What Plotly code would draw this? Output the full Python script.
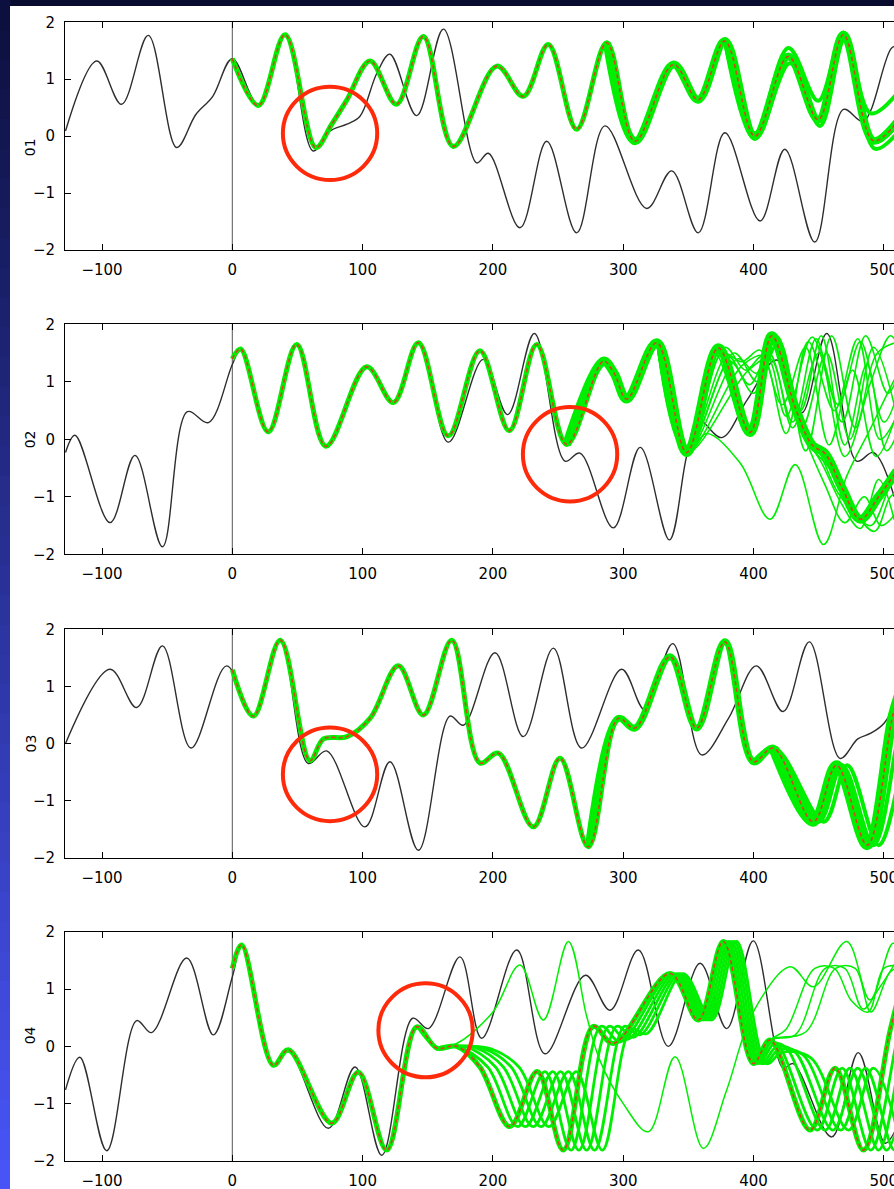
import plotly.graph_objects as go

# ---------------------------------------------------------------------------
# Observed trajectories (black), ensemble mean (red dashed) and ensemble
# members (green) for the four state variables 01..04.  Points are (t, value)
# knots; the curves are drawn as splines through them.
# ---------------------------------------------------------------------------
obs1 = [(-128, 0.09), (-104, 1.32), (-85, 0.56), (-64.5, 1.77), (-42.7, -0.2), (-28, 0.38),
        (-15, 0.70), (0, 1.36), (20, 0.54), (40.5, 1.78), (62, -0.26), (75, 0.09), (88, 0.21),
        (98, 0.35), (111, 1.11), (121, 1.44), (141.5, 0.36), (162, 1.88), (187.6, -0.47),
        (196.5, -0.30), (220.8, -1.61), (241.3, -0.09), (264.3, -1.70), (286, 0.18), (318, -1.27),
        (337.2, -0.61), (357.6, -1.70), (378, 0.06), (405, -1.49), (424, -0.23), (447, -1.86),
        (469, 0.47), (484.3, 0.26), (506, 1.55), (512, 1.58)]
mean1 = [(0, 1.36), (20, 0.54), (40.5, 1.78), (64, -0.2), (76, 0.2), (88, 0.64), (105.7, 1.32),
         (126, 0.56), (146.6, 1.75), (169.6, -0.18), (203, 1.23), (223.3, 0.70), (242.5, 1.61),
         (264.3, 0.12), (287.3, 1.64), (309, -0.09), (338.5, 1.26), (357.6, 0.64), (378, 1.67),
         (401, 0.0), (426.7, 1.40), (449.7, 0.29), (469, 1.78), (492, -0.08), (512, 0.3)]
members1 = [
    [(378, 1.67), (401, 0.05), (426.7, 1.55), (449.7, 0.62), (469, 1.82), (490, 0.40), (512, 0.8)],
    [(378, 1.67), (401, -0.05), (428, 1.28), (451, 0.18), (470, 1.70), (493, -0.22), (512, 0.1)],
]

obs2 = [(-128, -0.23), (-120.7, 0.07), (-93.8, -1.45), (-74.7, -0.28), (-53.6, -1.87), (-34.5, 0.48),
        (-18.4, 0.29), (0, 1.3), (6.4, 1.57), (27.6, 0.13), (49.4, 1.65), (71.9, -0.12), (103.1, 1.26),
        (123.6, 0.64), (142.8, 1.68), (165.8, -0.05), (192.6, 1.39), (211.3, 0.43), (231.8, 1.84),
        (255.3, -0.38), (266.8, -0.24), (292.4, -1.54), (313, -0.14), (335.4, -1.75), (348.7, -0.29),
        (357.6, 0.34), (375.6, 0.03), (395, 0.68), (417.8, 1.38), (437, 0.46), (456.2, 1.84),
        (479.2, -0.38), (492, -0.23), (508, -1.0)]
mean2 = [(0, 1.40), (6.4, 1.57), (27.6, 0.13), (49.4, 1.65), (71.9, -0.12), (103.1, 1.26), (123.6, 0.64),
         (142.8, 1.68), (165.8, 0.06), (190, 1.54), (212.6, 0.15), (233.6, 1.65), (256.6, -0.09),
         (284.8, 1.36), (293, 1.15), (302.7, 0.70), (325.7, 1.68), (348.7, -0.23), (373, 1.59),
         (397.3, 0.12), (414, 1.80), (432, 0.55), (445, -0.1), (455, -0.25), (468, -0.85),
         (482, -1.39), (496, -1.0), (510, -0.55)]
members2 = [
    [(325.7, 1.68), (348.7, -0.23), (380, 1.45), (397, 0.95), (412, 1.5), (430, 0.3), (448, 1.75),
     (470, -0.3), (490, 1.0), (505, 1.8), (512, 1.6)],
    [(325.7, 1.68), (348.7, -0.23), (385, 1.5), (403, 1.0), (420, 1.7), (440, -0.2), (460, 1.8),
     (478, 0.2), (495, 1.5), (512, 1.7)],
    [(325.7, 1.68), (348.7, -0.23), (392, 1.3), (410, 1.45), (425, 0.4), (445, 1.78), (465, 0.6),
     (482, 1.7), (500, 0.3), (512, 0.9)],
    [(325.7, 1.68), (348.7, -0.23), (375, 1.55), (398, 0.15), (418, 1.8), (440, 0.0), (458, -0.5),
     (475, -1.2), (490, -1.5), (505, -0.8), (512, -0.6)],
    [(325.7, 1.68), (348.7, -0.23), (370, 1.5), (395, 0.1), (412, 1.75), (438, 0.1), (455, -0.8),
     (470, -1.45), (485, -1.0), (498, -1.5), (512, -1.2)],
    [(325.7, 1.68), (348.7, -0.23), (378, 1.6), (394, 1.2), (407, 1.45), (425, 0.1), (442, 1.7),
     (462, 0.5), (480, 1.75), (497, 0.0), (512, 0.5)],
    [(325.7, 1.68), (348.7, -0.23), (388, 1.4), (402, 1.15), (416, 1.6), (436, 0.5), (452, 1.8),
     (470, -0.1), (487, 1.3), (502, -0.2), (512, 0.2)],
    [(325.7, 1.68), (348.7, -0.23), (373, 1.59), (397, 0.12), (414, 1.8), (432, 0.4), (450, -0.2),
     (464, -0.9), (478, -1.3), (493, -1.6), (505, -1.0), (512, -0.9)],
    [(325.7, 1.68), (348.7, -0.23), (382, 1.35), (400, 0.8), (418, 1.65), (437, 0.2), (456, 1.5),
     (474, 0.0), (492, 1.6), (508, 0.6)],
    [(325.7, 1.68), (348.7, -0.23), (376, 1.5), (391, 1.35), (405, 1.55), (422, 0.6), (440, 1.6),
     (458, -0.1), (476, 1.2), (494, -0.3), (512, 0.6)],
    [(325.7, 1.68), (348.7, -0.23), (396, 1.2), (413, 1.4), (430, 0.2), (450, 1.5), (468, 0.3),
     (486, 1.8), (503, 0.8), (512, 1.2)],
    [(325.7, 1.68), (348.7, -0.23), (371, 1.55), (397, 0.12), (416, 1.78), (436, 0.2), (452, -0.4),
     (467, -1.1), (482, -1.55), (496, -0.7), (508, -1.4)],
    [(325.7, 1.68), (348.7, -0.23), (364, 0.1), (389.6, -0.41), (412.7, -1.39), (432, -0.44),
     (453.6, -1.83), (471.5, -0.64), (489.4, 0.17), (505, 0.9), (512, 1.2)],
]

obs3 = [(-128, 0.0), (-93.8, 1.30), (-73.4, 0.63), (-53.6, 1.71), (-31.7, -0.08), (-4.3, 1.36),
        (16.2, 0.48), (36.8, 1.81), (58.3, -0.35), (72.4, -0.13), (101.8, -1.46), (121, -0.32),
        (142.8, -1.87), (167, 0.48), (177.3, 0.32), (201.6, 1.59), (223.3, 0.12), (246.4, 1.67),
        (268.1, -0.08), (298.8, 1.30), (316.6, 0.59), (338, 1.75), (360.2, -0.20), (381, 0.45),
        (402.2, 1.36), (422.7, 0.56), (442.8, 1.78), (466.4, -0.26), (480, 0.08), (490, 0.18),
        (500, 0.35), (512, 0.85)]
mean3 = [(0, 1.29), (16.2, 0.48), (36.8, 1.81), (59.6, -0.30), (70, 0.08), (88, 0.12), (106, 0.45),
         (127.4, 1.36), (146.6, 0.50), (168.4, 1.81), (190, -0.34), (204.2, -0.17), (231, -1.46),
         (251.5, -0.26), (273.2, -1.81), (296.2, 0.44), (309, 0.27), (335.9, 1.52), (356.4, 0.27),
         (378, 1.78), (399.8, -0.32), (415.2, -0.08), (445.9, -1.37), (463.7, -0.38), (487.3, -1.78),
         (507, 0.5), (514, 1.0)]
members3 = [
    [(399.8, -0.32), (415.2, -0.08), (450, -1.37), (468, -0.38), (492, -1.78), (510, 0.0), (516, 0.6)],
    [(399.8, -0.32), (417, -0.1), (454, -1.37), (472, -0.38), (496, -1.78), (512, -0.6), (518, 0.0)],
]

obs4 = [(-128, -0.76), (-117, -0.19), (-96.4, -1.82), (-73.4, 0.45), (-61.9, 0.24), (-35, 1.54),
        (-14.6, 0.20), (0, 1.21), (7.2, 1.77), (31.5, -0.33), (43, -0.09), (73.7, -1.43), (94.2, -0.36),
        (114.7, -1.90), (138.4, 0.49), (150.5, 0.31), (174.7, 1.56), (191.4, 0.14), (218.3, 1.68),
        (240, -0.13), (271, 1.24), (289.9, 0.63), (311.6, 1.68), (334.6, 0.0), (359, 1.45),
        (379.4, 0.31), (399.8, 1.84), (422.7, -0.38), (430.4, -0.30), (460, -1.58), (480.4, -0.11),
        (501, -1.69), (512, -1.3)]
mean4 = [(0, 1.36), (7.2, 1.77), (31.5, -0.33), (43, -0.06), (76.3, -1.34), (96.7, -0.45), (118.5, -1.81),
         (141.5, 0.34), (156.9, -0.03), (172.2, 0.0), (190, -0.36), (213, -1.40), (234, -0.44),
         (254, -1.81), (277, 0.35), (292.4, 0.05), (336, 1.27), (357.6, 0.46), (376.8, 1.83),
         (399.8, -0.30), (412.7, 0.11), (443.4, -1.46), (462.6, -0.38), (484.3, -1.81), (504.8, 0.28),
         (514, 1.1)]
# members that run behind the mean by a growing delay
members4_lagged = [
    [(156.9, -0.03), (172.2, 0.0), (196, -0.36), (219, -1.40), (240, -0.44), (260, -1.81), (283, 0.35),
     (298, 0.08), (338, 1.27), (360, 0.46), (379, 1.83), (402, -0.3), (414, 0.08), (420, 0.0),
     (449, -1.46), (468, -0.38), (490, -1.81), (510, 0.1), (516, 0.6)],
    [(156.9, -0.03), (172.2, 0.0), (180, -0.01), (202, -0.36), (225, -1.40), (246, -0.44), (266, -1.81),
     (289, 0.35), (303, 0.12), (340, 1.27), (362, 0.46), (381, 1.83), (404, -0.3), (416, 0.05),
     (426, -0.05), (455, -1.46), (474, -0.38), (496, -1.81), (512, -0.3), (518, 0.2)],
    [(156.9, -0.03), (172.2, 0.0), (186, -0.02), (208, -0.36), (231, -1.40), (252, -0.44), (272, -1.81),
     (295, 0.35), (308, 0.16), (342, 1.27), (364, 0.46), (383, 1.83), (406, -0.3), (418, 0.0),
     (432, -0.1), (461, -1.46), (480, -0.38), (502, -1.81), (514, -1.0)],
    [(156.9, -0.03), (172.2, 0.0), (192, -0.03), (214, -0.36), (237, -1.40), (258, -0.44), (278, -1.81),
     (301, 0.35), (313, 0.2), (344, 1.27), (366, 0.46), (385, 1.83), (408, -0.3), (420, -0.05),
     (438, -0.15), (467, -1.46), (486, -0.38), (508, -1.81), (516, -1.5)],
    [(156.9, -0.03), (172.2, 0.0), (198, -0.04), (220, -0.36), (243, -1.40), (264, -0.44), (284, -1.81),
     (306, 0.30), (318, 0.22), (346, 1.27), (368, 0.46), (387, 1.83), (410, -0.3), (422, -0.1),
     (444, -0.2), (473, -1.46), (492, -0.38), (514, -1.81)],
]
# members that break away from the bundle
members4_stray = [
    [(141.5, 0.34), (156.9, -0.03), (172.2, 0.05), (200, 0.6), (220.8, 1.42), (238.7, 0.46),
     (257.9, 1.83), (272, 0.52), (282, -0.24), (300, -1.0), (319.3, -1.49), (339.8, -0.18),
     (361.5, -1.78), (379.4, -0.76), (399.8, 0.60), (428, 1.39), (446, 1.04), (471.5, 1.83),
     (489.4, 0.81), (507, 1.8), (514, 1.6)],
    [(399.8, -0.30), (412.7, 0.11), (425, 0.3), (447, 1.36), (462, 1.36), (475, 0.8), (488, 0.6),
     (500, 1.36), (514, 1.4)],
    [(399.8, -0.30), (412.7, 0.11), (432, 0.2), (455, 1.36), (470, 1.36), (484, 0.65), (496, 1.0),
     (510, 1.5)],
    [(399.8, -0.30), (412.7, 0.11), (440, 0.25), (463, 1.36), (478, 1.36), (490, 0.6), (505, 1.3),
     (514, 1.4)],
]

panel_names = ["01", "02", "03", "04"]
x_ticks = [-100, 0, 100, 200, 300, 400, 500]
y_ticks = [-2, -1, 0, 1, 2]

# ---------------------------------------------------------------------------
# styling / layout
# ---------------------------------------------------------------------------
W, H = 894, 1189
GREEN = "#00ee00"
RED = "#d8421c"
BLACK = "#2e2e2e"
FONT = "DejaVu Sans"

plot_left = 65
panel_px = [(22.3, 250.0), (324.3, 554.3), (629.3, 857.7), (931.7, 1161.0)]
x_range = [-128.4, 507.8]

# where the green bundle widens: (start time, line width)
band_widths = [
    [(0, 5), (287.3, 8)],
    [(0, 5), (256.6, 9)],
    [(0, 5), (273.2, 7), (415.2, 10)],
    [(0, 5)],
]
# member line widths per panel: (bundled members, stray members)
member_widths = [(4, 1.6), (4, 1.6), (4, 1.6), (2.8, 1.5)]
# highlighted regions (centre t, centre value)
circles = [(75, 0.05), (259.2, -0.26), (75, -0.54), (148.3, 0.28)]

panels = [
    (obs1, mean1, members1, []),
    (obs2, mean2, [], members2),
    (obs3, mean3, members3, []),
    (obs4, mean4, members4_lagged, members4_stray),
]


def unzip(pts):
    return [p[0] for p in pts], [p[1] for p in pts]


fig = go.Figure()


def add_curve(i, pts, color, width, dash=None):
    xs, ys = unzip(pts)
    fig.add_trace(go.Scatter(
        x=xs, y=ys, mode="lines",
        line=dict(color=color, width=width, shape="spline", smoothing=1.0, dash=dash),
        xaxis="x" if i == 1 else f"x{i}", yaxis="y" if i == 1 else f"y{i}",
        hoverinfo="skip", showlegend=False))


for i, (obs, mean, thick_members, thin_members) in enumerate(panels, start=1):
    w_thick, w_thin = member_widths[i - 1]
    add_curve(i, obs, BLACK, 1.4)
    for m in thin_members:
        add_curve(i, m, GREEN, w_thin)
    for m in thick_members:
        add_curve(i, m, GREEN, w_thick)
    for t0, w in band_widths[i - 1]:
        add_curve(i, [p for p in mean if p[0] >= t0], GREEN, w)
    add_curve(i, mean, RED, 1.6, dash="4px,3px")

shapes = []
# slide background: dark top band and a blue strip down the left edge
n_strip = 40
c_top = (12, 16, 62)
c_bot = (72, 84, 246)
for k in range(n_strip):
    f = k / (n_strip - 1)
    col = tuple(int(round(a + (b - a) * f)) for a, b in zip(c_top, c_bot))
    shapes.append(dict(type="rect", xref="paper", yref="paper", layer="below",
                       x0=0, x1=10.5 / W, y0=1 - (k + 1) / n_strip - 0.001,
                       y1=1 - k / n_strip,
                       fillcolor="rgb(%d,%d,%d)" % col, line=dict(width=0)))
shapes.append(dict(type="rect", xref="paper", yref="paper", layer="below",
                   x0=10 / W, x1=1.0, y0=0, y1=1 - 6 / H,
                   fillcolor="white", line=dict(width=0)))

layout_axes = {}
annotations = []
for i, (top, bot) in enumerate(panel_px, start=1):
    sx = "" if i == 1 else str(i)
    dom_y = [1 - bot / H, 1 - top / H]
    layout_axes[f"xaxis{sx}"] = dict(
        domain=[plot_left / W, 1.0], range=x_range, anchor=f"y{sx}", automargin=False,
        tickmode="array", tickvals=x_ticks, showgrid=False, zeroline=False,
        showline=True, linecolor="black", linewidth=1, mirror="ticks",
        ticks="inside", ticklen=6, tickcolor="black", tickwidth=1,
        tickfont=dict(family=FONT, size=15, color="black"),
        ticklabeloverflow="allow", ticklabelstandoff=6)
    layout_axes[f"yaxis{sx}"] = dict(
        domain=dom_y, range=[-2, 2], anchor=f"x{sx}", automargin=False,
        tickmode="array", tickvals=y_ticks, showgrid=False, zeroline=False,
        showline=True, linecolor="black", linewidth=1, mirror=False,
        ticks="inside", ticklen=6, tickcolor="black", tickwidth=1,
        tickfont=dict(family=FONT, size=15, color="black"), ticklabelstandoff=6)
    # forecast start marker at t = 0
    shapes.append(dict(type="line", xref=f"x{sx}", yref=f"y{sx}", x0=0, x1=0, y0=-2, y1=2,
                       line=dict(color="#555555", width=1), layer="below"))
    # highlight ring
    cx, cy = circles[i - 1]
    rx, ry = 36.2, 0.82
    shapes.append(dict(type="circle", xref=f"x{sx}", yref=f"y{sx}",
                       x0=cx - rx, x1=cx + rx, y0=cy - ry, y1=cy + ry,
                       line=dict(color="#ff2a0a", width=4), layer="above"))
    annotations.append(dict(text=panel_names[i - 1], xref="paper", yref="paper",
                            x=20 / W, y=1 - (top + bot) / 2 / H, showarrow=False,
                            textangle=-90, font=dict(family=FONT, size=14, color="black")))

fig.update_layout(
    width=W, height=H, margin=dict(l=0, r=0, t=0, b=0, pad=0, autoexpand=False),
    paper_bgcolor="#070b2e", plot_bgcolor="white",
    shapes=shapes, annotations=annotations, **layout_axes)

# let the figure fill the page edge to edge
fig.write_html("out.html",
               post_script="document.body.style.margin='0';"
                           "document.body.style.overflow='hidden';")
